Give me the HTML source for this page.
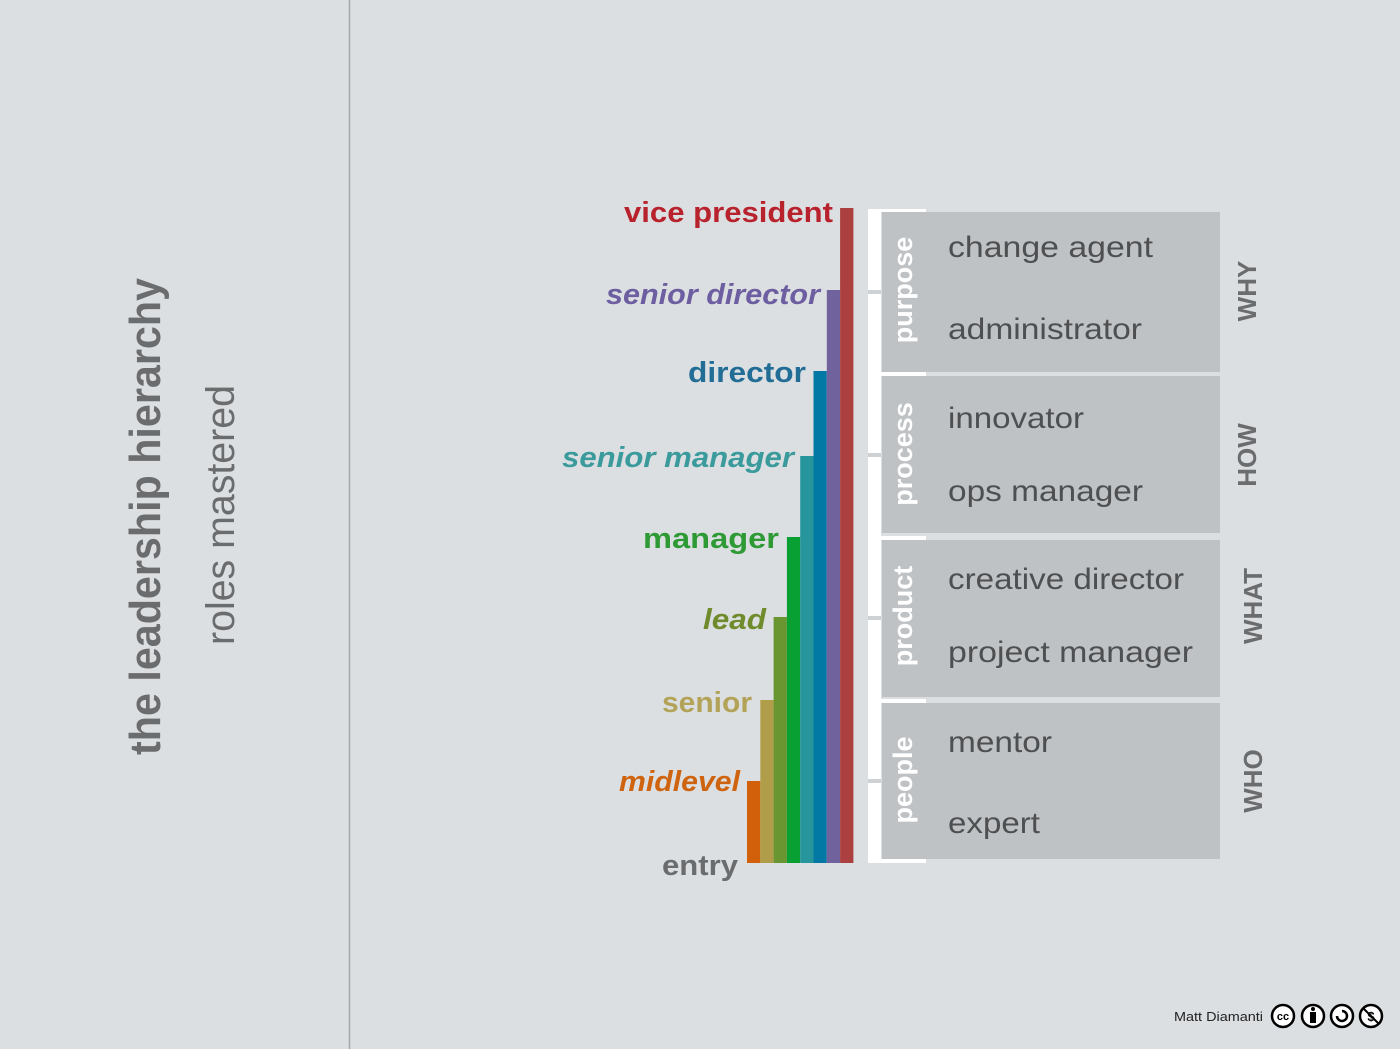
<!DOCTYPE html>
<html><head><meta charset="utf-8"><style>
html,body{margin:0;padding:0;background:#dcdfe1;}
svg{display:block}
text{font-family:"Liberation Sans",sans-serif;}
</style></head><body>
<svg width="1400" height="1049" viewBox="0 0 1400 1049" xmlns="http://www.w3.org/2000/svg">
<rect width="1400" height="1049" fill="#dcdfe1"/>
<line x1="349.5" y1="0" x2="349.5" y2="1049" stroke="#a5a8aa" stroke-width="1.5"/>
<text transform="translate(160,755) rotate(-90)" font-size="44" font-weight="bold" fill="#6b6c6e" textLength="477" lengthAdjust="spacingAndGlyphs">the leadership hierarchy</text>
<text transform="translate(234,645) rotate(-90)" font-size="40" fill="#6b6c6e" textLength="260" lengthAdjust="spacingAndGlyphs">roles mastered</text>

<rect x="747" y="781" width="13.3" height="82" fill="#d2600a"/>
<rect x="760.3" y="700" width="13.3" height="163" fill="#b09d4a"/>
<rect x="773.6" y="617" width="13.3" height="246" fill="#6a9632"/>
<rect x="786.9" y="537" width="13.3" height="326" fill="#08a032"/>
<rect x="800.2" y="456" width="13.3" height="407" fill="#27959c"/>
<rect x="813.5" y="371" width="13.3" height="492" fill="#0278a4"/>
<rect x="826.8" y="290" width="13.3" height="573" fill="#70629d"/>
<rect x="840.1" y="208" width="13.3" height="655" fill="#ac4040"/>

<g font-size="29" font-weight="bold">
<text x="624" y="222" fill="#b8222c" textLength="209" lengthAdjust="spacingAndGlyphs">vice president</text>
<text x="606" y="304" fill="#6c5ea0" font-style="italic" textLength="214" lengthAdjust="spacingAndGlyphs">senior director</text>
<text x="688" y="382" fill="#226d96" textLength="118" lengthAdjust="spacingAndGlyphs">director</text>
<text x="562" y="467" fill="#3a9a9c" font-style="italic" textLength="232" lengthAdjust="spacingAndGlyphs">senior manager</text>
<text x="643" y="548" fill="#2e9a35" textLength="136" lengthAdjust="spacingAndGlyphs">manager</text>
<text x="703" y="629" fill="#6f8b2c" font-style="italic" textLength="63" lengthAdjust="spacingAndGlyphs">lead</text>
<text x="662" y="712" fill="#b3a358" textLength="90" lengthAdjust="spacingAndGlyphs">senior</text>
<text x="619" y="791" fill="#cf6410" font-style="italic" textLength="121" lengthAdjust="spacingAndGlyphs">midlevel</text>
<text x="662" y="875" fill="#6b6c6e" textLength="76" lengthAdjust="spacingAndGlyphs">entry</text>
</g>

<rect x="868" y="209" width="13" height="654" fill="#ffffff"/>
<g fill="#ffffff">
<rect x="868" y="209" width="58" height="3"/>
<rect x="868" y="372" width="58" height="4"/>
<rect x="868" y="536" width="58" height="4"/>
<rect x="868" y="699" width="58" height="4"/>
<rect x="868" y="859" width="58" height="4"/>
</g>
<g fill="#cfd2d4">
<rect x="868" y="290" width="13" height="4"/>
<rect x="868" y="453" width="13" height="4"/>
<rect x="868" y="616" width="13" height="4"/>
<rect x="868" y="779" width="13" height="4"/>
</g>
<g fill="#bfc2c4">
<rect x="882" y="212" width="338" height="160"/>
<rect x="882" y="376" width="338" height="157"/>
<rect x="882" y="540" width="338" height="157"/>
<rect x="882" y="703" width="338" height="156"/>
</g>
<g font-size="27" font-weight="bold" fill="#ffffff" text-anchor="middle">
<text transform="translate(912,290) rotate(-90)">purpose</text>
<text transform="translate(912,454) rotate(-90)">process</text>
<text transform="translate(912,616) rotate(-90)">product</text>
<text transform="translate(912,780) rotate(-90)">people</text>
</g>
<g font-size="30" fill="#4e4f51">
<text x="948" y="257" textLength="205" lengthAdjust="spacingAndGlyphs">change agent</text>
<text x="948" y="339" textLength="194" lengthAdjust="spacingAndGlyphs">administrator</text>
<text x="948" y="428" textLength="136" lengthAdjust="spacingAndGlyphs">innovator</text>
<text x="948" y="501" textLength="195" lengthAdjust="spacingAndGlyphs">ops manager</text>
<text x="948" y="589" textLength="236" lengthAdjust="spacingAndGlyphs">creative director</text>
<text x="948" y="662" textLength="245" lengthAdjust="spacingAndGlyphs">project manager</text>
<text x="948" y="752" textLength="104" lengthAdjust="spacingAndGlyphs">mentor</text>
<text x="948" y="833" textLength="92" lengthAdjust="spacingAndGlyphs">expert</text>
</g>
<g font-size="26" font-weight="bold" fill="#6b6c6e" text-anchor="middle">
<text transform="translate(1256,291) rotate(-90)">WHY</text>
<text transform="translate(1256,455) rotate(-90)">HOW</text>
<text transform="translate(1262,606) rotate(-90)">WHAT</text>
<text transform="translate(1262,781) rotate(-90)">WHO</text>
</g>

<text x="1174" y="1021" font-size="12.5" fill="#222" textLength="89" lengthAdjust="spacingAndGlyphs">Matt Diamanti</text>
<g stroke="#000" stroke-width="2.5" fill="#fff">
<circle cx="1283" cy="1016" r="11"/>
<circle cx="1313" cy="1016" r="11"/>
<circle cx="1342" cy="1016" r="11"/>
<circle cx="1371" cy="1016" r="11"/>
</g>
<text x="1283" y="1020" font-size="11" font-weight="bold" text-anchor="middle" fill="#000">cc</text>
<circle cx="1313" cy="1009" r="2" fill="#000"/>
<rect x="1310" y="1012" width="6" height="11" fill="#000"/>
<path d="M1337 1016 a5 5 0 1 0 5 -5" fill="none" stroke="#000" stroke-width="2.5"/>
<text x="1371" y="1021" font-size="13" font-weight="bold" text-anchor="middle" fill="#000">$</text>
<line x1="1363" y1="1008" x2="1379" y2="1024" stroke="#000" stroke-width="2"/>
</svg>
</body></html>
